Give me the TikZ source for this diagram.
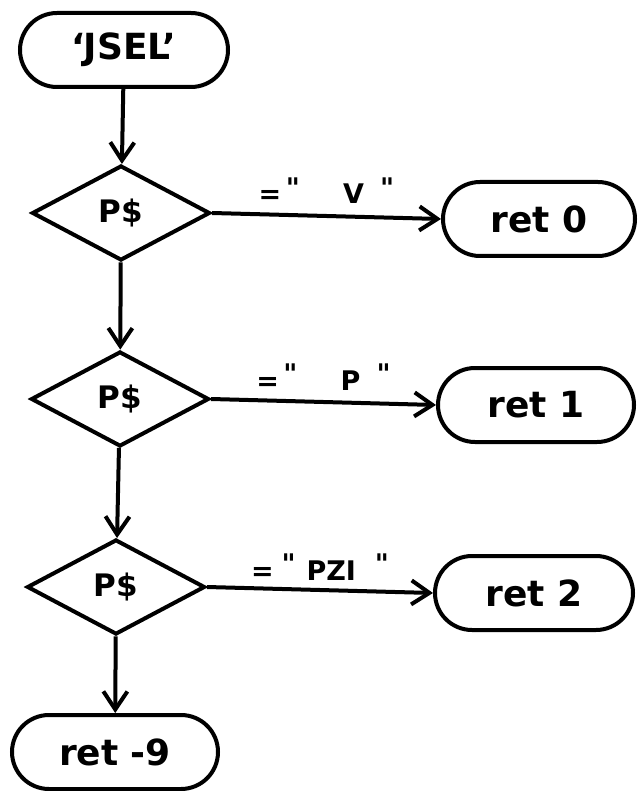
\documentclass[tikz,border=0pt]{standalone}
\usepackage{fontspec}
\setmainfont{DejaVu Sans}
\usetikzlibrary{arrows.meta, shapes.geometric, shapes.misc}

\tikzset{
  term/.style={draw, rounded rectangle, line width=4pt, inner sep=0pt,
    minimum width=#1, minimum height=74pt,
    font=\fontsize{36}{40}\selectfont\bfseries},
  term/.default=200pt,
  test/.style={draw, diamond, aspect=1.9, line width=4pt, inner sep=0pt,
    minimum width=178pt, minimum height=95pt,
    font=\fontsize{31}{34}\selectfont\bfseries},
  flow/.style={-{Straight Barb[length=18pt, width=24pt, line width=4pt]}, line width=4pt},
  lbl/.style={font=\fontsize{27}{30}\selectfont\bfseries, inner sep=2pt}
}
\newcommand{\qm}{\raisebox{0.45ex}{\textquotedbl}}

\begin{document}
\begin{tikzpicture}[x=1pt, y=-1pt]
  \useasboundingbox (0,0) rectangle (637,791);

  % start and the three tests
  \node[term=208pt] (jsel) at (124,50) {`JSEL'};
  \node[test] (t1) at (121,213) {P\$};
  \node[test] (t2) at (120,399) {P\$};
  \node[test] (t3) at (116,587) {P\$};

  % returns
  \node[term=192pt] (r0) at (539,219) {ret 0};
  \node[term=196pt] (r1) at (536,405) {ret 1};
  \node[term=198pt] (r2) at (534,593) {ret 2};
  \node[term=206pt] (r9) at (115,752) {ret -9};

  \draw[flow] (jsel) -- (t1);
  \draw[flow] (t1) -- (t2);
  \draw[flow] (t2) -- (t3);
  \draw[flow] (t3) -- (r9);

  \draw[flow] (t1.east) -- (r0.west) node[lbl, midway, above=8pt] {=\,\qm\hspace{1.6em}V\hspace{0.6em}\qm};
  \draw[flow] (t2.east) -- (r1.west) node[lbl, midway, above=8pt] {=\,\qm\hspace{1.6em}P\hspace{0.6em}\qm};
  \draw[flow] (t3.east) -- (r2.west) node[lbl, midway, above=6pt] {=\hspace{0.3em}\qm\hspace{0.4em}PZI\hspace{0.7em}\qm};
\end{tikzpicture}
\end{document}
